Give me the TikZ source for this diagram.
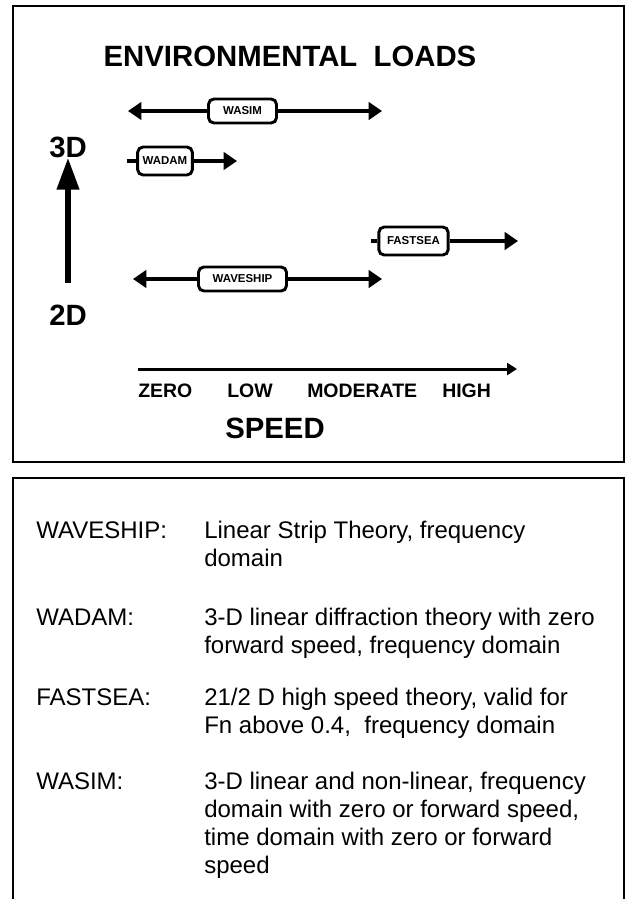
\documentclass[tikz,border=0pt]{standalone}
\usepackage{fontspec}
\setmainfont{Liberation Sans}
\usetikzlibrary{arrows.meta}

\newcommand{\entrylines}[1]{\begin{tabular}[t]{@{}l@{}}#1\end{tabular}}

\begin{document}
\begin{tikzpicture}[
  x=0.75pt,y=-0.75pt,
  frame/.style={draw,line width=1.5pt},
  head/.style={font=\fontsize{22}{26}\selectfont\bfseries,inner sep=0pt,anchor=base},
  tag/.style={font=\fontsize{14.6}{17}\selectfont\bfseries,inner sep=0pt,anchor=base west},
  prog/.style={draw,line width=2.2pt,rounded corners=4pt,fill=white,font=\fontsize{8.6}{10}\selectfont\bfseries,inner sep=0pt},
  span/.style={line width=3.6pt,-{Triangle[length=10pt,width=13pt]}},
  stub/.style={line width=3.6pt},
  entry/.style={font=\fontsize{18}{21}\selectfont,inner sep=0pt,anchor=base west}
]
\useasboundingbox (0,0) rectangle (626,899);
\draw[frame] (13,6) rectangle (624,462);
\draw[frame] (13,899) -- (13,478) -- (624,478) -- (624,899);

\node[head] (title) at (290,67) {ENVIRONMENTAL\ \ LOADS};
\node[head] (d3) at (68,157) {3D};
\node[head] (d2) at (68,325) {2D};
\draw[line width=4.5pt,-{Triangle[length=24pt,width=16pt]},shorten <=16pt] (d2) -- (d3);

\node[prog,minimum width=51pt,minimum height=18pt] (wasim) at (242.5,111) {WASIM};
\node[prog,minimum width=41pt,minimum height=21pt] (wadam) at (165,161) {WADAM};
\node[prog,minimum width=52pt,minimum height=21pt] (fastsea) at (413.5,241) {FASTSEA};
\node[prog,minimum width=66pt,minimum height=18pt] (waveship) at (242.5,279) {WAVESHIP};
\coordinate (wasimL) at (128,111);
\coordinate (wasimR) at (382,111);
\coordinate (wadamL) at (127,161);
\coordinate (wadamR) at (237,161);
\coordinate (fastseaL) at (371,241);
\coordinate (fastseaR) at (518,241);
\coordinate (waveshipL) at (133,279);
\coordinate (waveshipR) at (382,279);
\draw[span] (wasim) -- (wasimL);
\draw[span] (wasim) -- (wasimR);
\draw[stub] (wadam) -- (wadamL);
\draw[span] (wadam) -- (wadamR);
\draw[stub] (fastsea) -- (fastseaL);
\draw[span] (fastsea) -- (fastseaR);
\draw[span] (waveship) -- (waveshipL);
\draw[span] (waveship) -- (waveshipR);

\coordinate (speed0) at (138,369);
\coordinate (speed1) at (517,369);
\draw[line width=2.25pt,-{Triangle[length=7.5pt,width=9pt]}] (speed0) -- (speed1);
\node[tag] (zero) at (138,397) {ZERO};
\node[tag] (low) at (227,397) {LOW};
\node[tag] (moderate) at (307,397) {MODERATE};
\node[tag] (high) at (442,397) {HIGH};
\node[head,anchor=base west] (speed) at (225,438) {SPEED};

\node[entry] (waveshipname) at (36,538) {WAVESHIP:};
\node[entry] (waveshiptext) at (204,538) {\entrylines{Linear Strip Theory, frequency\\domain}};
\node[entry] (wadamname) at (36,625) {WADAM:};
\node[entry] (wadamtext) at (204,625) {\entrylines{3-D linear diffraction theory with zero\\forward speed, frequency domain}};
\node[entry] (fastseaname) at (36,705) {FASTSEA:};
\node[entry] (fastseatext) at (204,705) {\entrylines{21/2 D high speed theory, valid for\\Fn above 0.4,\ \ frequency domain}};
\node[entry] (wasimname) at (36,789) {WASIM:};
\node[entry] (wasimtext) at (204,789) {\entrylines{3-D linear and non-linear, frequency\\domain with zero or forward speed,\\time domain with zero or forward\\speed}};
\end{tikzpicture}
\end{document}
